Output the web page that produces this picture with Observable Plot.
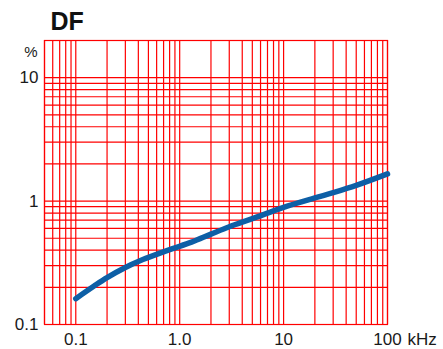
<!DOCTYPE html>
<html>
<head>
<meta charset="utf-8">
<script src="https://cdn.jsdelivr.net/npm/d3@7"></script>
<script src="https://cdn.jsdelivr.net/npm/@observablehq/plot@0.6"></script>
<style>
  html, body { margin: 0; padding: 0; background: #fff; }
</style>
</head>
<body>
<div id="chart"></div>
<script>
// Frequency (kHz) and dissipation factor DF (%)
const freq = [0.1, 0.15, 0.2, 0.3, 0.42, 0.6, 0.84, 1.3, 2, 3, 5, 10, 20, 30, 50, 100];
const df   = [0.162, 0.205, 0.24, 0.29, 0.33, 0.37, 0.41, 0.465, 0.54, 0.62, 0.72, 0.89, 1.06, 1.17, 1.34, 1.66];

// Grid lines
const xGrid = [0.05, 0.06, 0.07, 0.08, 0.09,
               0.1, 0.2, 0.3, 0.4, 0.5, 0.6, 0.7, 0.8, 0.9,
               1, 2, 3, 4, 5, 6, 7, 8, 9,
               10, 20, 30, 40, 50, 60, 70, 80, 90, 100];
const yGrid = [0.1, 0.2, 0.3, 0.4, 0.5, 0.6, 0.7, 0.8, 0.9,
               1, 2, 3, 4, 5, 6, 7, 8, 9, 10];

// Tick labels
const xTicks = [0.1, 1, 10, 100];
const xTickLabels = ["0.1", "1.0", "10", "100"];
const yTicks = [0.1, 1, 10];
const yTickLabels = ["0.1", "1", "10"];

const title = "DF";
const yUnit = "%";
const xUnit = "kHz";

const data = freq.map((f, i) => ({f, v: df[i]}));
const red = "#ff0000";

const chart = Plot.plot({
  width: 443,
  height: 349,
  marginLeft: 44,
  marginRight: 56,
  marginTop: 40,
  marginBottom: 25,
  style: {fontFamily: "'Liberation Sans', Arial, sans-serif", color: "#1a1a1a", background: "#fff"},
  x: {type: "log", domain: [0.05, 100], label: null},
  y: {type: "log", domain: [0.1, 20], label: null},
  marks: [
    Plot.ruleX(xGrid, {stroke: red, strokeWidth: 1.2}),
    Plot.ruleY(yGrid, {stroke: red, strokeWidth: 1.2}),
    Plot.frame({stroke: red, strokeWidth: 1.2}),
    Plot.line(data, {x: "f", y: "v", stroke: "#0d5fa6", strokeWidth: 5.5, curve: "catmull-rom"}),
    Plot.axisX(xTicks, {
      tickSize: 0, tickPadding: 8, fontSize: 17,
      tickFormat: (d) => xTickLabels[xTicks.indexOf(d)]
    }),
    Plot.text([xUnit], {
      x: () => 100, frameAnchor: "bottom", textAnchor: "start",
      lineAnchor: "top", dx: 20, dy: 8, fontSize: 17
    }),
    Plot.axisY(yTicks, {
      tickSize: 0, tickPadding: 6, fontSize: 17,
      tickFormat: (d) => yTickLabels[yTicks.indexOf(d)]
    }),
    Plot.text([yUnit], {
      frameAnchor: "top-left", textAnchor: "end", lineAnchor: "middle",
      dx: -7, dy: 12, fontSize: 15
    }),
    Plot.text([title], {
      frameAnchor: "top-left", textAnchor: "start", lineAnchor: "middle",
      dx: 6, dy: -19, fontSize: 25, fontWeight: "bold", fill: "#111"
    })
  ]
});

document.getElementById("chart").appendChild(chart);
</script>
</body>
</html>
